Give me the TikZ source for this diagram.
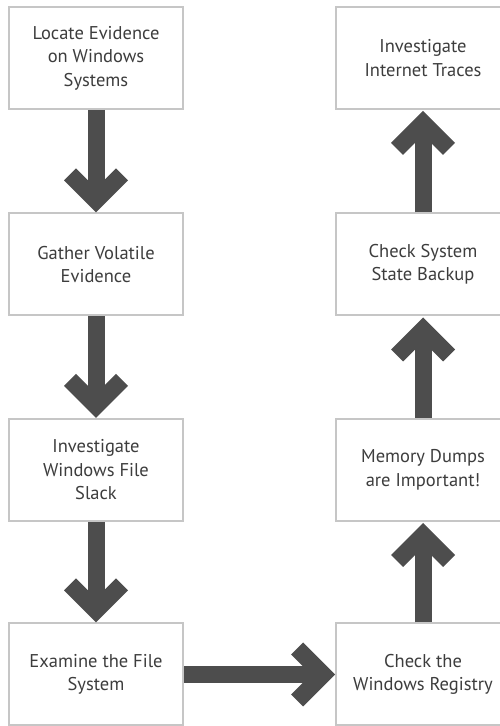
\documentclass[tikz,border=0pt]{standalone}
\usepackage{fontspec}
\setmainfont{PT Sans}
\usetikzlibrary{calc}
\definecolor{boxline}{HTML}{C6C6C6}
\definecolor{arrowcol}{HTML}{4D4D4D}
\definecolor{txt}{HTML}{3D3D3D}
\newcommand\chevronat[2]{\fill[arrowcol, shift={(#1)}, rotate=#2] (0,0) -- (-32,32) -- (-20,44) -- (0,24) -- (20,44) -- (32,32) -- cycle;}
\begin{document}
\begin{tikzpicture}[x=1pt,y=1pt,
  box/.style={draw=boxline, line width=2pt, minimum width=174pt, minimum height=102pt, inner sep=0pt, outer sep=0pt, align=center, text=txt, font=\fontsize{18.5}{23.5}\selectfont},
  shaft/.style={draw=arrowcol, line width=17pt}]
\clip (0,0) rectangle (500,726);
\fill[white] (0,0) rectangle (500,726);
\node[box] (a1) at (96,668) {Locate Evidence\\on Windows\\Systems};
\node[box] (a2) at (96,461.5) {Gather Volatile\\Evidence};
\node[box] (a3) at (96,256) {Investigate\\Windows File\\Slack};
\node[box] (a4) at (96,51.5) {Examine the File\\System};
\node[box] (b4) at (423,51.5) {Check the\\Windows Registry};
\node[box] (b3) at (423,256) {Memory Dumps\\are Important!};
\node[box] (b2) at (423,461.5) {Check System\\State Backup};
\node[box] (b1) at (423,668) {Investigate\\Internet Traces};
\coordinate (t2) at ($(a2.north)+(0,1)$);
\coordinate (t3) at ($(a3.north)+(0,1)$);
\coordinate (t4) at ($(a4.north)+(0,1)$);
\coordinate (tb4) at ($(b4.west)+(-1,0)$);
\coordinate (tb3) at ($(b3.south)+(0,-2)$);
\coordinate (tb2) at ($(b2.south)+(0,-2)$);
\coordinate (tb1) at ($(b1.south)+(0,-2)$);
\draw[shaft] ($(a1.south)+(0,-1)$) -- ($(t2)+(0,20)$); \chevronat{t2}{0}
\draw[shaft] ($(a2.south)+(0,-1)$) -- ($(t3)+(0,20)$); \chevronat{t3}{0}
\draw[shaft] ($(a3.south)+(0,-1)$) -- ($(t4)+(0,20)$); \chevronat{t4}{0}
\draw[shaft] ($(a4.east)+(1,0)$) -- ($(tb4)+(-20,0)$); \chevronat{tb4}{90}
\draw[shaft] ($(b4.north)+(0,1)$) -- ($(tb3)+(0,-20)$); \chevronat{tb3}{180}
\draw[shaft] ($(b3.north)+(0,1)$) -- ($(tb2)+(0,-20)$); \chevronat{tb2}{180}
\draw[shaft] ($(b2.north)+(0,1)$) -- ($(tb1)+(0,-20)$); \chevronat{tb1}{180}
\end{tikzpicture}
\end{document}
